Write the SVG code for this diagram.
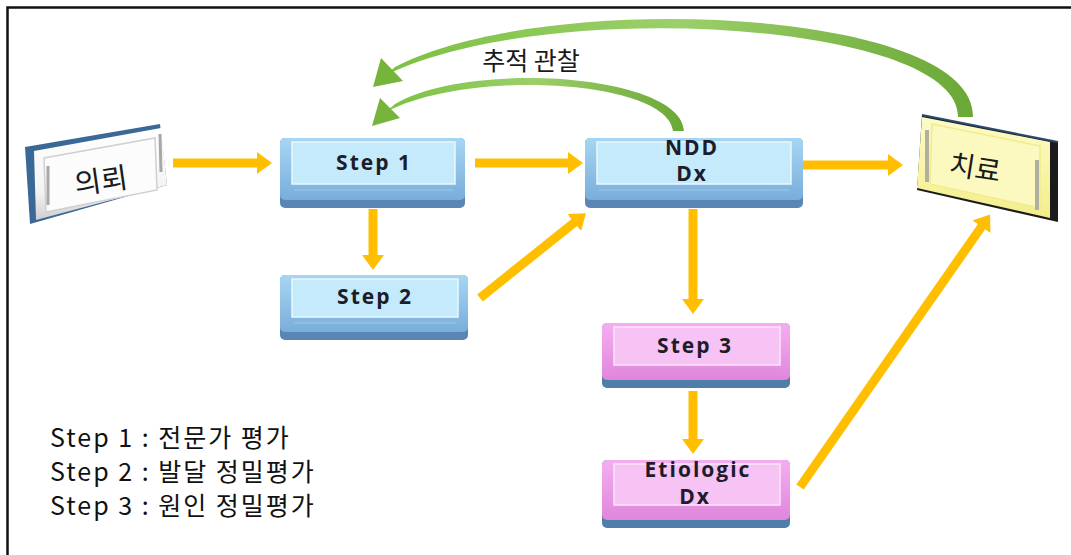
<svg xmlns="http://www.w3.org/2000/svg" width="1071" height="555" viewBox="0 0 1071 555">
<defs>
<style>
.ar{stroke:#FFBF00;stroke-width:9;fill:none;marker-end:url(#ah)}
.kt{font-family:"Open Sans","Liberation Sans",sans-serif;font-weight:700;font-size:21px;letter-spacing:2px;fill:#1c1c2a;text-anchor:middle}
.kr{font-family:"Noto Sans CJK KR",sans-serif;fill:#1a1a1a;text-anchor:middle}
.lg{font-family:"Noto Sans CJK KR",sans-serif;font-size:25px;letter-spacing:2px;fill:#111}
.bband{fill:#5a86b6}
.bface{fill:#c4eafb;stroke:#e9f8fe;stroke-width:1.5}
.bline{stroke:#93c2e6;stroke-width:1.5}
.pband{fill:#4f7eaa}
.pface{fill:#f7c2f4;stroke:#fde6fb;stroke-width:1.5}
.pline{stroke:#dd8fd9;stroke-width:1.5}
.grn{fill:#76B43C}
</style>
<marker id="ah" markerUnits="userSpaceOnUse" markerWidth="16" markerHeight="22" refX="1" refY="11" orient="auto">
<path d="M0,0 L15,11 L0,22 Z" fill="#FFBF00"/>
</marker>
<linearGradient id="gBlue" x1="0" y1="0" x2="0" y2="1">
<stop offset="0" stop-color="#a7d6f3"/><stop offset="1" stop-color="#79aedb"/>
</linearGradient>
<linearGradient id="gPink" x1="0" y1="0" x2="0" y2="1">
<stop offset="0" stop-color="#f4aef0"/><stop offset="1" stop-color="#e086dc"/>
</linearGradient>
<linearGradient id="gWhite" x1="0" y1="0" x2="0" y2="1">
<stop offset="0" stop-color="#ffffff"/><stop offset="0.7" stop-color="#f3f3f3"/><stop offset="1" stop-color="#cfcfcf"/>
</linearGradient>
<linearGradient id="gYel" x1="0" y1="0" x2="0" y2="1">
<stop offset="0" stop-color="#fdfbc8"/><stop offset="1" stop-color="#f3ee8a"/>
</linearGradient>
<linearGradient id="gGrn" x1="0" y1="0" x2="1" y2="0">
<stop offset="0" stop-color="#7cc142"/><stop offset="0.5" stop-color="#9ccf6a"/><stop offset="1" stop-color="#6aa836"/>
</linearGradient>
</defs>
<rect x="0" y="0" width="1071" height="555" fill="#ffffff"/>
<path d="M7.5,555 L7.5,7.5 L1071,7.5" fill="none" stroke="#111" stroke-width="2.5"/>

<g id="connectors">
<line class="ar" x1="173" y1="163" x2="258" y2="163"/>
<line class="ar" x1="475" y1="163" x2="569" y2="163"/>
<line class="ar" x1="803" y1="165" x2="889" y2="165"/>
<line class="ar" x1="373" y1="209" x2="373" y2="256"/>
<line class="ar" x1="480" y1="298" x2="575" y2="222"/>
<line class="ar" x1="693" y1="209" x2="693" y2="300"/>
<line class="ar" x1="693" y1="391" x2="693" y2="440"/>
<line class="ar" x1="800" y1="487" x2="982" y2="226"/>
<g id="follow-outer">
<path fill="url(#gGrn)" d="M973,117 C976,8 545,-12 395,67 L386,75 C545,-4 960,22 958,117 Z"/>
<path class="grn" d="M381,58 L403,81 L373,87 Z"/>
</g>
<g id="follow-inner">
<path fill="url(#gGrn)" d="M684,131 C681,74 470,60 395,104 L386,112 C470,68 668,80 673,131 Z"/>
<path class="grn" d="M380,98 L400,118 L372,126 Z"/>
</g>
<text class="kr" x="531" y="70" font-size="25">추적 관찰</text>
</g>

<g id="node-request">
<polygon points="25,147 160,124 167,185 30,224" fill="#3a6897"/>
<polygon points="34,151 161,128 167,185 36,220" fill="url(#gWhite)"/>
<polygon points="44,158 155,138 157,190 46,212" fill="#fcfcfc" stroke="#d0d0d0" stroke-width="1.5"/>
<line x1="48" y1="166" x2="48" y2="205" stroke="#a8a8a8" stroke-width="3"/>
<line x1="160" y1="134" x2="161" y2="172" stroke="#a8a8a8" stroke-width="3"/>
<text class="kr" x="101" y="191" font-size="29" transform="rotate(-8 101 180)">의뢰</text>
</g>

<g id="node-step1" transform="translate(280,138)">
<rect class="bband" x="0" y="0" width="185" height="70" rx="5"/>
<rect x="0" y="0" width="185" height="62" rx="5" fill="url(#gBlue)"/>
<rect class="bface" x="12" y="4" width="163" height="42"/>
<line class="bline" x1="14" y1="52" x2="173" y2="52"/>
<text class="kt" x="94" y="32">Step 1</text>
</g>

<g id="node-step2" transform="translate(280,275)">
<rect class="bband" x="0" y="0" width="188" height="65" rx="5"/>
<rect x="0" y="0" width="188" height="57" rx="5" fill="url(#gBlue)"/>
<rect class="bface" x="12" y="4" width="166" height="38"/>
<line class="bline" x1="14" y1="48" x2="176" y2="48"/>
<text class="kt" x="95" y="29">Step 2</text>
</g>

<g id="node-ndd" transform="translate(585,138)">
<rect class="bband" x="0" y="0" width="218" height="70" rx="5"/>
<rect x="0" y="0" width="218" height="62" rx="5" fill="url(#gBlue)"/>
<rect class="bface" x="12" y="4" width="194" height="42"/>
<line class="bline" x1="14" y1="52" x2="204" y2="52"/>
<text class="kt" x="107" y="17" font-size="16">NDD</text>
<text class="kt" x="107" y="43" font-size="16">Dx</text>
</g>

<g id="node-step3" transform="translate(602,323)">
<rect class="pband" x="0" y="0" width="188" height="65" rx="5"/>
<rect x="0" y="0" width="188" height="57" rx="5" fill="url(#gPink)"/>
<rect class="pface" x="12" y="4" width="166" height="38"/>
<line class="pline" x1="14" y1="48" x2="176" y2="48"/>
<text class="kt" x="93" y="30">Step 3</text>
</g>

<g id="node-etiologic" transform="translate(602,460)">
<rect class="pband" x="0" y="0" width="188" height="68" rx="5"/>
<rect x="0" y="0" width="188" height="60" rx="5" fill="url(#gPink)"/>
<rect class="pface" x="12" y="4" width="166" height="41"/>
<line class="pline" x1="14" y1="51" x2="176" y2="51"/>
<text class="kt" x="96" y="17" font-size="19" letter-spacing="3">Etiologic</text>
<text class="kt" x="93" y="44" font-size="19" letter-spacing="3">Dx</text>
</g>

<g id="node-treatment">
<polygon points="922,115 1058,142 1058,222 917,190" fill="#1b1b1b"/>
<polygon points="922,117 1050,142 1050,218 917,188" fill="url(#gYel)"/>
<polygon points="932,124 1040,146 1040,208 930,184" fill="#fbf9bf" stroke="#f0ec90" stroke-width="1.5"/>
<line x1="927" y1="130" x2="927" y2="182" stroke="#b0b0a0" stroke-width="4"/>
<line x1="1037" y1="160" x2="1037" y2="210" stroke="#b0b0a0" stroke-width="4"/>
<line x1="922" y1="115" x2="1058" y2="142" stroke="#2a4a70" stroke-width="2"/>
<text class="kr" x="975" y="178" font-size="28" transform="rotate(9 975 168)">치료</text>
</g>

<g id="legend">
<text class="lg" x="50" y="447">Step 1 : 전문가 평가</text>
<text class="lg" x="50" y="481">Step 2 : 발달 정밀평가</text>
<text class="lg" x="50" y="515">Step 3 : 원인 정밀평가</text>
</g>
</svg>
